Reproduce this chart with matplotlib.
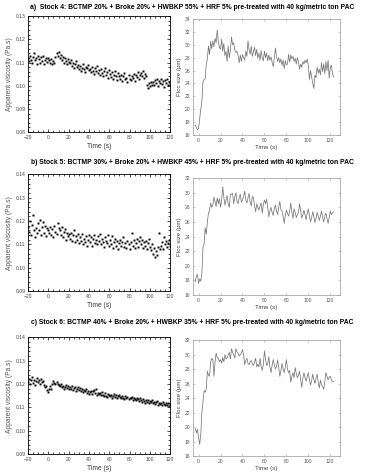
import numpy as np
import matplotlib
matplotlib.use('Agg')
import matplotlib.pyplot as plt
from matplotlib.ticker import MultipleLocator

plt.rcParams['font.family'] = ['Liberation Sans', 'DejaVu Sans']

titles = ['a)  Stock 4: BCTMP 20% + Broke 20% + HWBKP 55% + HRF 5% pre-treated with 40 kg/metric ton PAC',
          'b) Stock 5: BCTMP 30% + Broke 20% + HWBKP 45% + HRF 5% pre-treated with 40 kg/metric ton PAC',
          'c) Stock 6: BCTMP 40% + Broke 20% + HWBKP 35% + HRF 5% pre-treated with 40 kg/metric ton PAC']

# viscosity time axis (s), one reading per second
t_visc = np.arange(-20, 121)
# apparent viscosity in units of 1e-4 Pa.s
visc_a = [1120, 1105, 1130, 1112, 1098, 1125, 1140, 1110, 1118, 1095, 1128,
          1115, 1100, 1122, 1108, 1130, 1095, 1112, 1118, 1104, 1120,
          1110, 1098, 1115, 1092, 1105, 1100,
          1125, 1140, 1130, 1145, 1120, 1132,
          1110, 1125, 1100, 1118, 1108, 1095, 1115, 1102,
          1098, 1110, 1085, 1100, 1078, 1092, 1105, 1080, 1088, 1072,
          1085, 1065, 1078, 1092, 1070, 1060, 1082, 1075, 1090, 1068,
          1072, 1058, 1080, 1065, 1050, 1075, 1062, 1085, 1055, 1068,
          1048, 1070, 1055, 1040, 1062, 1075, 1045, 1058, 1035, 1066,
          1052, 1038, 1060, 1030, 1048, 1065, 1040, 1025, 1055, 1042,
          1030, 1048, 1022, 1040, 1055, 1028, 1035, 1018, 1045, 1030,
          1025, 1042, 1035, 1050, 1020, 1045, 1038, 1058, 1030, 1048,
          1055, 1040, 1062, 1035, 1050, 1042,
          1005, 992, 1010, 998, 1015, 1002,
          1018, 1005, 1025, 1010, 1030, 1000, 1022, 1012,
          1028, 1008, 1020, 995, 1025, 1012, 1030, 1005, 1018, 1002]
visc_b = [1175, 1155, 1200, 1140, 1185, 1225, 1160, 1130, 1170, 1150, 1190,
          1160, 1205, 1140, 1175, 1195, 1150, 1180, 1135, 1170, 1160,
          1150, 1175, 1140, 1165, 1130, 1180, 1155, 1145, 1190, 1170,
          1160, 1140, 1175, 1130, 1155, 1165, 1120, 1150, 1135, 1145,
          1125, 1150, 1115, 1140, 1160, 1110, 1135, 1120, 1145, 1105,
          1130, 1115, 1145, 1100, 1125, 1110, 1135, 1095, 1120, 1140,
          1110, 1130, 1095, 1125, 1140, 1105, 1120, 1100, 1135, 1115,
          1145, 1100, 1125, 1110, 1090, 1130, 1115, 1105, 1140, 1095,
          1120, 1100, 1135, 1085, 1110, 1125, 1095, 1115, 1080, 1105,
          1120, 1095, 1110, 1130, 1090, 1105, 1085, 1115, 1100, 1080,
          1110, 1150, 1095, 1120, 1085, 1105, 1125, 1090, 1115, 1130,
          1100, 1120, 1085, 1110, 1095, 1115, 1080, 1105, 1125, 1090,
          1075, 1100, 1060, 1085, 1045, 1070, 1055, 1090, 1150, 1080,
          1095, 1110, 1080, 1130, 1100, 1115, 1090, 1105, 1120, 1095]
visc_c = [1210, 1222, 1200, 1215, 1232, 1205, 1218, 1195, 1212, 1225, 1208,
          1215, 1200, 1220, 1208, 1212, 1195, 1185, 1190, 1175, 1165,
          1180, 1192, 1178, 1200, 1212, 1205, 1198, 1210, 1202, 1195,
          1190, 1198, 1185, 1192, 1180, 1188, 1195, 1182, 1190, 1178,
          1185, 1178, 1190, 1175, 1182, 1186, 1172, 1180, 1188, 1176,
          1182, 1170, 1178, 1165, 1175, 1168, 1180, 1162, 1170, 1158,
          1165, 1172, 1158, 1168, 1175, 1160, 1178, 1155, 1162, 1158,
          1160, 1152, 1165, 1155, 1148, 1160, 1150, 1145, 1158, 1152,
          1148, 1155, 1142, 1150, 1158, 1145, 1152, 1140, 1148, 1155,
          1145, 1138, 1150, 1142, 1135, 1148, 1140, 1145, 1135, 1142,
          1138, 1145, 1132, 1140, 1136, 1130, 1142, 1135, 1128, 1138,
          1132, 1125, 1135, 1128, 1120, 1132, 1125, 1130, 1118, 1128,
          1122, 1130, 1118, 1125, 1115, 1122, 1128, 1112, 1120, 1115,
          1118, 1110, 1122, 1115, 1108, 1120, 1112, 1118, 1105, 1115]

# floc size time axis (s)
t_floc = np.arange(-3, 124)
floc_a = [17.5, 17.2, 16.8, 17.0,
          18.5, 20.0, 21.2, 24.2, 24.6, 24.7, 27.0, 27.8, 29.8, 28.5,
          30.5, 29.4, 30.6, 29.7, 31.0, 30.3, 32.3, 30.5, 29.6, 29.3,
          30.9, 29.0, 30.2, 28.3, 29.0, 27.4, 29.8, 28.0, 29.2, 31.2,
          30.0, 30.3, 29.2, 28.8, 29.0, 28.3, 27.2, 28.4, 27.4, 28.5,
          28.0, 27.6, 29.0, 28.2, 30.6, 29.2, 28.5, 29.8, 28.2, 28.9,
          29.6, 28.3, 29.3, 27.9, 28.7, 27.6, 29.1, 28.0, 27.5, 29.0,
          28.0, 28.7, 27.5, 28.4, 27.6, 28.1, 27.3, 26.6, 28.0, 29.5,
          28.2, 27.4, 28.0, 27.2, 27.8, 26.8, 27.6, 26.3, 27.5, 26.9,
          27.0, 28.5, 27.3, 28.4, 27.8, 28.2, 27.4, 27.9, 27.0, 28.0,
          27.3, 26.2, 27.0, 26.5, 27.4, 27.0, 27.6, 27.2, 27.8, 26.8,
          24.6, 26.0, 25.0, 24.0, 23.2, 25.3, 24.9, 26.5, 25.6, 26.2,
          25.3, 27.2, 25.8, 27.0, 25.5, 27.4, 26.0, 27.6, 24.8, 26.5,
          26.8, 25.5, 25.0]
floc_b = [17.8, 18.6, 18.8, 17.6,
          18.2, 17.9, 19.0, 22.5, 23.0, 25.2, 24.3, 26.0, 27.2, 27.6,
          28.6, 28.0, 28.3, 29.4, 28.8, 28.1, 29.3, 28.5, 29.2, 28.0,
          29.0, 30.8, 29.4, 28.3, 29.0, 29.6, 28.4, 28.0, 29.8, 29.8,
          29.9, 28.5, 29.4, 30.0, 28.8, 28.5, 29.3, 29.8, 28.7, 29.0,
          29.5, 30.2, 29.0, 28.6, 29.3, 29.9, 28.7, 28.2, 29.5, 29.3,
          28.2, 27.4, 28.5, 28.0, 27.6, 28.2, 28.6, 27.2, 28.4, 29.0,
          28.5, 29.1, 28.0, 26.7, 27.5, 28.0, 27.3, 26.9, 27.8, 28.3,
          27.5, 27.0, 28.0, 28.8, 27.7, 27.5, 26.8, 25.8, 26.9, 27.6,
          27.2, 26.8, 27.5, 28.6, 27.3, 26.5, 27.8, 27.3, 26.6, 27.0,
          27.3, 28.5, 27.6, 26.5, 27.0, 27.6, 27.0, 26.3, 27.2, 27.8,
          26.8, 26.0, 26.6, 27.4, 26.8, 25.9, 26.5, 27.3, 26.8, 26.2,
          26.8, 27.5, 26.6, 26.0, 26.8, 27.2, 26.5, 25.8, 26.6, 27.5,
          27.0, 27.2, 27.4]
floc_c = [19.8, 19.2, 19.7, 18.5,
          17.6, 19.0, 22.0, 23.5, 25.0, 24.8, 25.3, 27.7, 27.2, 27.0,
          29.0, 29.5, 29.3, 27.0, 29.0, 30.2, 29.6, 29.5, 29.0, 29.3,
          28.8, 29.6, 29.0, 30.0, 29.4, 29.5, 30.0, 30.3, 29.4, 30.8,
          30.3, 30.0, 29.5, 30.8, 30.4, 30.2, 29.8, 30.0, 30.2, 30.7,
          30.0, 28.6, 29.2, 29.5, 28.8, 28.6, 29.0, 29.2, 28.7, 28.5,
          29.0, 29.5, 28.3, 28.7, 28.3, 29.5, 28.4, 27.8, 28.6, 30.5,
          29.4, 28.5, 28.7, 29.7, 28.3, 27.5, 28.5, 29.3, 28.6, 28.0,
          28.4, 29.3, 28.2, 27.0, 27.8, 28.8, 28.0, 27.5, 28.3, 29.3,
          28.0, 27.5, 27.8, 26.2, 27.0, 27.5, 26.8, 28.2, 27.4, 26.8,
          27.2, 27.7, 26.5, 25.5, 26.7, 27.5, 26.8, 26.3, 27.0, 27.5,
          26.5, 25.8, 26.4, 27.3, 26.6, 26.0, 26.8, 27.3, 26.1, 25.4,
          26.5, 25.8, 25.6, 25.2, 26.3, 27.5, 27.0, 26.5, 26.9, 27.0,
          26.5, 26.3, 26.3]

visc_ylims = [(0.08, 0.13), (0.09, 0.14), (0.09, 0.14)]
floc_ylims = [(16, 34), (16, 32), (16, 32)]

fig = plt.figure(figsize=(3.65, 4.75), dpi=100)

# rows: [left, bottom, width, height] in figure fraction
left_pos = [[0.077, 0.722, 0.389, 0.244],
            [0.077, 0.387, 0.389, 0.246],
            [0.077, 0.044, 0.389, 0.246]]
right_pos = [[0.529, 0.716, 0.403, 0.244],
             [0.529, 0.379, 0.403, 0.246],
             [0.529, 0.040, 0.403, 0.244]]
title_y = [0.985, 0.657, 0.322]

visc_all = [visc_a, visc_b, visc_c]
floc_all = [floc_a, floc_b, floc_c]

for i in range(3):
    ax = fig.add_axes(left_pos[i])
    ax.plot(t_visc, np.array(visc_all[i]) * 1e-4, 's', color='black', ms=1.4, mew=0)
    ax.set_xlim(-20, 120)
    ax.set_ylim(*visc_ylims[i])
    ax.xaxis.set_major_locator(MultipleLocator(20))
    ax.xaxis.set_minor_locator(MultipleLocator(5))
    ax.yaxis.set_major_locator(MultipleLocator(0.01))
    ax.yaxis.set_minor_locator(MultipleLocator(0.002))
    ax.yaxis.set_major_formatter(plt.FormatStrFormatter('%.2f'))
    ax.tick_params(which='both', direction='in', top=True, right=True,
                   labelsize=3.6, labelcolor='#444444', width=0.5, pad=2)
    ax.tick_params(which='major', length=2.5)
    ax.tick_params(which='minor', length=1.3)
    for s in ax.spines.values():
        s.set_linewidth(0.6)
    ax.set_xlabel('Time (s)', fontsize=4.8, color='#333333', labelpad=2)
    ax.set_ylabel('Apparent viscosity (Pa.s)', fontsize=4.8, color='#555555', labelpad=2)

    ax2 = fig.add_axes(right_pos[i])
    ax2.plot(t_floc, floc_all[i], color='#777777', lw=0.55)
    ax2.set_xlim(-5, 129)
    ax2.set_ylim(*floc_ylims[i])
    ax2.xaxis.set_major_locator(MultipleLocator(20))
    ax2.yaxis.set_major_locator(MultipleLocator(2))
    ax2.tick_params(direction='in', top=True, right=True, labeltop=False, labelright=False,
                    labelsize=3.6, labelcolor='#555555', color='#999999',
                    length=1.5, width=0.4, pad=2)
    for s in ax2.spines.values():
        s.set_linewidth(0.5)
        s.set_color('#999999')
    ax2.set_xlabel('Time (s)', fontsize=4.4, color='#444444', labelpad=1.5)
    ax2.set_ylabel('Floc size (\u03bcm)', fontsize=4.4, color='#444444', labelpad=2)

    fig.text(0.527, title_y[i], titles[i], ha='center', va='center',
             fontsize=4.9, fontweight='bold')

fig.savefig('out.png', dpi=100)
